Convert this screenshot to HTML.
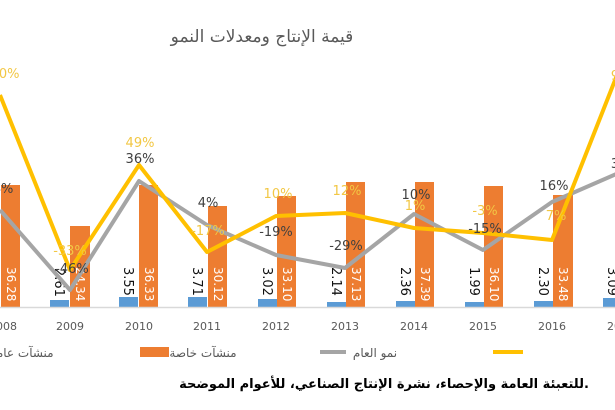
<!DOCTYPE html>
<html><head><meta charset="utf-8"><style>
html,body{margin:0;padding:0;background:#fff;}
svg{display:block;}
text{font-family:"DejaVu Sans","Liberation Sans",sans-serif;}
</style></head><body>
<svg width="615" height="410" viewBox="0 0 615 410" xmlns="http://www.w3.org/2000/svg">
<rect width="615" height="410" fill="#fff"/>
<text x="262" y="42" font-size="17" fill="#595959" text-anchor="middle">قيمة الإنتاج ومعدلات النمو</text>
<g fill="#ED7D31">
<rect x="1" y="185" width="19" height="122"/>
<rect x="70" y="226" width="20" height="81"/>
<rect x="139" y="185" width="19" height="122"/>
<rect x="208" y="206" width="19" height="101"/>
<rect x="277" y="196" width="19" height="111"/>
<rect x="346" y="182" width="19" height="125"/>
<rect x="415" y="182" width="19" height="125"/>
<rect x="484" y="186" width="19" height="121"/>
<rect x="553" y="195" width="20" height="112"/>
</g>
<g fill="#5B9BD5">
<rect x="50" y="300" width="19" height="7"/>
<rect x="119" y="297" width="19" height="10"/>
<rect x="188" y="297" width="19" height="10"/>
<rect x="258" y="299" width="19" height="8"/>
<rect x="327" y="302" width="19" height="5"/>
<rect x="396" y="301" width="19" height="6"/>
<rect x="465" y="302" width="19" height="5"/>
<rect x="534" y="301" width="19" height="6"/>
<rect x="603" y="298" width="19" height="9"/>
</g>
<line x1="0" y1="307.5" x2="615" y2="307.5" stroke="#d9d9d9" stroke-width="1.5"/>
<g font-size="12" fill="#fff">
<text transform="translate(7,267) rotate(90)">36.28</text>
<text transform="translate(76,267) rotate(90)">24.34</text>
<text transform="translate(145,267) rotate(90)">36.33</text>
<text transform="translate(214,267) rotate(90)">30.12</text>
<text transform="translate(283,267) rotate(90)">33.10</text>
<text transform="translate(352,267) rotate(90)">37.13</text>
<text transform="translate(421,267) rotate(90)">37.39</text>
<text transform="translate(490,267) rotate(90)">36.10</text>
<text transform="translate(559,267) rotate(90)">33.48</text>
</g>
<g font-size="13" fill="#111">
<text transform="translate(55,268) rotate(90)">2.61</text>
<text transform="translate(124,267) rotate(90)">3.55</text>
<text transform="translate(193,267) rotate(90)">3.71</text>
<text transform="translate(263,267) rotate(90)">3.02</text>
<text transform="translate(332,267) rotate(90)">2.14</text>
<text transform="translate(401,267) rotate(90)">2.36</text>
<text transform="translate(470,267) rotate(90)">1.99</text>
<text transform="translate(539,267) rotate(90)">2.30</text>
<text transform="translate(608,267) rotate(90)">3.09</text>
</g>
<polyline fill="none" stroke="#A5A5A5" stroke-width="4" stroke-linejoin="round" points="0,210 70,290 139,181 207,225 276,255 345,268 414,214 483,250 552,202 621,172"/>
<polyline fill="none" stroke="#FFC000" stroke-width="4" stroke-linejoin="round" points="0,95 70,270 139,165 207,252 276,216 345,213 414,228 483,233 552,240 621,65"/>
<g font-size="13" fill="#F2C744" text-anchor="middle">
<text x="5" y="78">90%</text>
<text x="70" y="255">-33%</text>
<text x="140" y="147">49%</text>
<text x="208" y="235">-17%</text>
<text x="278" y="198">10%</text>
<text x="347" y="195">12%</text>
<text x="415" y="210">1%</text>
<text x="485" y="215">-3%</text>
<text x="556" y="220">7%</text>
<text x="615" y="80">9</text>
</g>
<g font-size="13" fill="#404040" text-anchor="middle">
<text x="3" y="193">4%</text>
<text x="72" y="273">-46%</text>
<text x="140" y="163">36%</text>
<text x="208" y="207">4%</text>
<text x="276" y="236">-19%</text>
<text x="346" y="250">-29%</text>
<text x="416" y="199">10%</text>
<text x="485" y="233">-15%</text>
<text x="554" y="190">16%</text>
<text x="615" y="168">3</text>
</g>
<g font-size="11" fill="#595959" text-anchor="middle">
<text x="3" y="330">2008</text>
<text x="70" y="330">2009</text>
<text x="139" y="330">2010</text>
<text x="207" y="330">2011</text>
<text x="276" y="330">2012</text>
<text x="345" y="330">2013</text>
<text x="414" y="330">2014</text>
<text x="483" y="330">2015</text>
<text x="552" y="330">2016</text>
<text x="621" y="330">2017</text>
</g>
<g font-size="12" fill="#595959" text-anchor="middle">
<text x="22" y="357">منشآت عامة</text>
<rect x="140" y="347" width="29" height="10" fill="#ED7D31"/>
<text x="203" y="357">منشآت خاصة</text>
<line x1="320" y1="352" x2="346" y2="352" stroke="#A5A5A5" stroke-width="4"/>
<text x="375" y="357">نمو العام</text>
<line x1="493" y1="352" x2="523" y2="352" stroke="#FFC000" stroke-width="4"/>
<text x="650" y="357">نمو الخاص</text>
</g>
<text x="384" y="388" font-size="13" font-weight="bold" fill="#000" text-anchor="middle">للتعبئة العامة والإحصاء، نشرة الإنتاج الصناعي، للأعوام الموضحة.</text>
</svg>
</body></html>
